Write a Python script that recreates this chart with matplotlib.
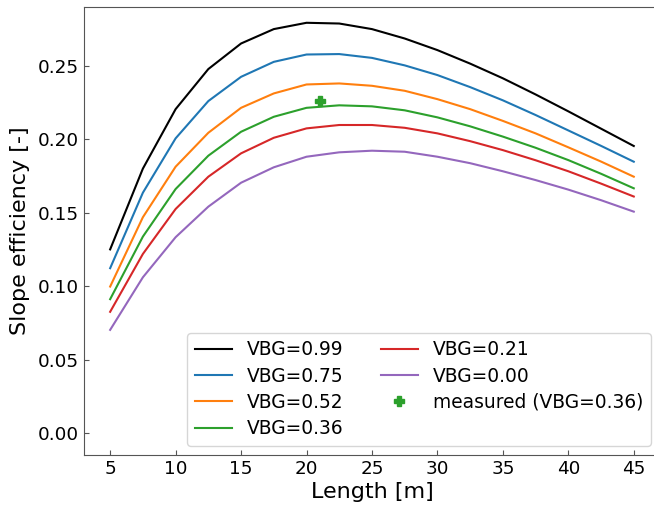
#!/usr/bin/env python3
"""
Slope efficiency vs. fibre length for several VBG reflectivities.
"""

import numpy as np
import matplotlib
matplotlib.use("Agg")
import matplotlib.pyplot as plt

# Fibre lengths [m]
length = [5, 7.5, 10, 12.5, 15, 17.5, 20, 22.5, 25, 27.5, 30,
          32.5, 35, 37.5, 40, 42.5, 45]

# Slope efficiency for each VBG reflectivity
eff_099 = [0.125, 0.180, 0.2205, 0.2478, 0.2652, 0.2750, 0.2793, 0.2788, 0.2750,
           0.2686, 0.2607, 0.2515, 0.2415, 0.2305, 0.2190, 0.2072, 0.1954]
eff_075 = [0.1122, 0.1636, 0.2006, 0.2260, 0.2425, 0.2527, 0.2577, 0.2580, 0.2554,
           0.2503, 0.2437, 0.2355, 0.2265, 0.2165, 0.2060, 0.1955, 0.1847]
eff_052 = [0.0997, 0.1469, 0.1813, 0.2044, 0.2214, 0.2312, 0.2373, 0.2380, 0.2364,
           0.2330, 0.2273, 0.2205, 0.2125, 0.2040, 0.1945, 0.1848, 0.1745]
eff_036 = [0.0911, 0.1337, 0.1661, 0.1888, 0.2051, 0.2153, 0.2214, 0.2231, 0.2224,
           0.2197, 0.2149, 0.2088, 0.2018, 0.1942, 0.1858, 0.1765, 0.1666]
eff_021 = [0.0825, 0.1219, 0.1525, 0.1745, 0.1904, 0.2010, 0.2074, 0.2097, 0.2097,
           0.2078, 0.2040, 0.1987, 0.1926, 0.1857, 0.1782, 0.1698, 0.1610]
eff_000 = [0.0702, 0.1060, 0.1333, 0.1541, 0.1704, 0.1809, 0.1881, 0.1911, 0.1922,
           0.1915, 0.1881, 0.1837, 0.1782, 0.1722, 0.1657, 0.1585, 0.1507]

vbg_labels = ["VBG=0.99", "VBG=0.75", "VBG=0.52", "VBG=0.36", "VBG=0.21", "VBG=0.00"]
colors = ["black", "tab:blue", "tab:orange", "tab:green", "tab:red", "tab:purple"]

# Measured point
meas_length = [21]
meas_eff = [0.226]

fig = plt.figure(figsize=(6.54, 5.05), dpi=100)
ax = fig.add_axes([0.1284, 0.099, 0.8807, 0.887])

for eff, lab, col in zip([eff_099, eff_075, eff_052, eff_036, eff_021, eff_000],
                         vbg_labels, colors):
    ax.plot(length, eff, color=col, lw=1.5, label=lab)

ax.plot(meas_length, meas_eff, "P", color="tab:green", markersize=6.5,
        label="measured (VBG=0.36)")

ax.set_xlim(3, 47)
ax.set_ylim(-0.015, 0.29)
ax.set_xticks(np.arange(5, 46, 5))
ax.set_yticks(np.arange(0, 0.26, 0.05))

ax.set_xlabel("Length [m]", fontsize=16, labelpad=3)
ax.set_ylabel("Slope efficiency [-]", fontsize=16, labelpad=6)
ax.tick_params(direction="in", labelsize=13.2, color="#555555")
for sp in ax.spines.values():
    sp.set_color("#555555")

ax.legend(loc="lower right", ncol=2, fontsize=13.4, labelspacing=0.39)

fig.savefig("out.png", dpi=100)
